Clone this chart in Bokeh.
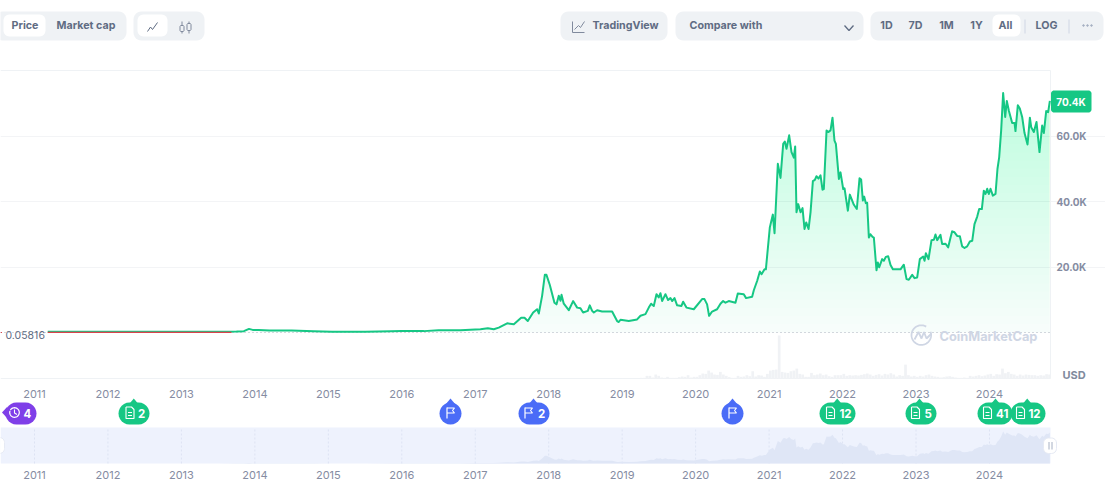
import numpy as np
from bokeh.plotting import figure
from bokeh.models import Range1d, LinearAxis, FixedTicker, Grid
from bokeh.core.properties import value
from bokeh.embed import file_html
from bokeh.resources import INLINE

# ---------- data ----------
tick_years = list(range(2011, 2025))
price_ticks = [20, 40, 60]
price_tick_labels = ["20.0K", "40.0K", "60.0K"]
last_price_label = "70.4K"
first_price = 0.05816
first_price_label = "0.05816"

years = [
 2011.18, 2013.25, 2013.5, 2013.75, 2013.85, 2013.92, 2013.97, 2014.05, 2014.2, 2014.5, 2014.8,
 2015.05, 2015.5, 2015.85, 2016.0, 2016.3, 2016.5, 2016.8, 2017.0,
 2017.071, 2017.171, 2017.252, 2017.320, 2017.434, 2017.525, 2017.625, 2017.670, 2017.715, 2017.788,
 2017.842, 2017.865, 2017.910, 2017.947, 2017.969, 2018.015, 2018.078, 2018.106, 2018.137, 2018.160,
 2018.174, 2018.205, 2018.273, 2018.332, 2018.387, 2018.432, 2018.468, 2018.532, 2018.559, 2018.591,
 2018.614, 2018.659, 2018.727, 2018.863, 2018.931, 2018.954, 2018.977, 2019.090, 2019.203, 2019.249,
 2019.317, 2019.362, 2019.394, 2019.430, 2019.467, 2019.498, 2019.521, 2019.544, 2019.589, 2019.625,
 2019.657, 2019.680, 2019.712, 2019.748, 2019.807, 2019.830, 2019.875, 2019.975, 2020.088, 2020.120,
 2020.156, 2020.183, 2020.224, 2020.292, 2020.338, 2020.374, 2020.406, 2020.451, 2020.542, 2020.574,
 2020.655, 2020.687, 2020.769, 2020.792, 2020.838, 2020.874, 2020.897, 2020.938, 2020.956,
 2021.010, 2021.051, 2021.074, 2021.119, 2021.155, 2021.192, 2021.214, 2021.237, 2021.273, 2021.305,
 2021.337, 2021.355, 2021.373, 2021.396, 2021.428, 2021.455, 2021.482, 2021.505, 2021.537, 2021.564,
 2021.596, 2021.623, 2021.645, 2021.673, 2021.700, 2021.727, 2021.745, 2021.782, 2021.805, 2021.836,
 2021.863, 2021.890, 2021.909, 2021.950, 2021.972, 2022.009, 2022.027, 2022.072, 2022.099, 2022.154,
 2022.194, 2022.231, 2022.253, 2022.276, 2022.294, 2022.317, 2022.335, 2022.358, 2022.380, 2022.408,
 2022.426, 2022.462, 2022.480, 2022.498, 2022.539, 2022.562, 2022.589, 2022.621, 2022.653, 2022.685,
 2022.721, 2022.789, 2022.834, 2022.871, 2022.902, 2022.948, 2022.980,
 2023.016, 2023.052, 2023.098, 2023.116, 2023.134, 2023.170, 2023.211, 2023.243, 2023.265, 2023.288,
 2023.333, 2023.356, 2023.402, 2023.438, 2023.470, 2023.492, 2023.524, 2023.560, 2023.597, 2023.628,
 2023.660, 2023.696, 2023.733, 2023.765, 2023.796, 2023.833, 2023.860, 2023.896, 2023.923, 2023.946,
 2023.969, 2023.991, 2024.014, 2024.046, 2024.082, 2024.109, 2024.132, 2024.159, 2024.186, 2024.214,
 2024.236, 2024.263, 2024.309, 2024.341, 2024.354, 2024.386, 2024.413, 2024.445, 2024.477, 2024.518,
 2024.550, 2024.568, 2024.604, 2024.640, 2024.681, 2024.717, 2024.740, 2024.772, 2024.799, 2024.822,
]
price = [
 0.25, 0.25, 0.25, 0.3, 0.4, 1.1, 0.8, 0.8, 0.6, 0.6, 0.4,
 0.25, 0.25, 0.35, 0.43, 0.42, 0.65, 0.65, 0.95,
 1.0, 1.3, 1.0, 1.5, 2.8, 2.5, 4.5, 4.5, 3.5, 6.1,
 7.1, 5.8, 11.2, 17.6, 17.6, 14.5, 9.1, 8.6, 11.2, 9.7,
 11.5, 8.8, 6.8, 9.6, 7.6, 7.4, 6.1, 6.6, 8.3, 6.6,
 6.1, 6.8, 6.4, 6.4, 3.5, 3.2, 3.9, 3.5, 4.0, 5.1,
 5.6, 7.6, 8.8, 8.1, 11.7, 10.7, 12.0, 9.6, 11.7, 9.9,
 10.5, 9.6, 10.5, 8.3, 8.1, 9.4, 7.6, 7.1, 10.2, 10.2,
 8.6, 5.1, 6.4, 7.1, 8.8, 9.6, 9.1, 9.6, 9.1, 11.9,
 11.7, 10.5, 10.9, 12.9, 15.8, 18.6, 17.8, 19.3, 19.3,
 32.1, 36.0, 30.3, 51.5, 47.2, 57.6, 58.3, 56.1, 60.2, 55.1,
 53.4, 56.8, 36.7, 39.2, 36.7, 38.0, 31.6, 33.6, 31.6, 36.7,
 46.2, 46.6, 47.7, 47.0, 48.0, 43.6, 43.8, 61.7, 61.2, 61.7,
 65.6, 58.6, 57.6, 46.9, 48.9, 43.8, 44.0, 37.2, 42.1, 39.0,
 37.7, 47.1, 46.7, 40.3, 41.5, 39.5, 39.6, 29.0, 30.0, 29.2,
 29.0, 19.0, 21.4, 19.9, 22.4, 21.9, 23.1, 23.3, 20.6, 19.3,
 19.3, 19.3, 20.7, 16.3, 16.1, 17.6, 16.6,
 16.8, 22.4, 23.2, 21.9, 24.2, 22.4, 28.2, 28.3, 29.9, 28.2,
 29.8, 27.0, 27.1, 26.0, 29.0, 30.9, 30.6, 29.5, 29.4, 26.3,
 25.8, 26.3, 27.8, 28.0, 33.1, 35.4, 37.7, 37.7, 43.3, 42.3,
 43.9, 42.3, 43.9, 41.8, 42.3, 50.0, 53.5, 61.7, 73.1, 65.8,
 70.7, 67.8, 64.0, 64.0, 61.5, 69.4, 68.4, 65.8, 60.9, 57.4,
 65.6, 62.7, 61.2, 64.3, 55.1, 63.2, 60.9, 67.6, 67.3, 70.7,
]
volume = [
 1,1,1,1,1,1,1,2,2,8,8,3,12,8,3,2,5,2,2,2,4,6,5,10,3,5,5,10,15,14,24,18,12,11,20,12,8,4,2,2,
 8,5,6,10,7,22,6,10,9,5,14,24,26,27,130,20,18,17,22,24,30,14,12,5,5,17,10,12,15,10,12,7,5,10,10,
 10,14,8,10,9,10,9,11,13,15,12,8,11,13,9,14,12,16,12,6,10,8,42,10,6,8,5,8,6,10,12,8,6,5,3,4,6,7,5,3,2,2,3,2,
 8,6,8,10,7,9,12,14,8,13,12,30,16,20,14,12,8,12,9,12,11,10,10,8,10,9,13,12,
]
volume_start = 2018.977
volume_step = 0.04

GREEN = "#16c784"
RED = "#d9444c"
SLATE = "#5f6c83"
AXIS = "#858ca2"
PILL = "#eff2f5"
FONT = value("Inter")

# pixel geometry of the plot inside the canvas
PX_PER_YEAR = 73.46
X2011 = 34.0
Y0 = 332.0
PX_PER_K = 3.275
WIDTH, HEIGHT = 1105, 485
def yr(px): return 2011 + (px - X2011) / PX_PER_YEAR
def val(py): return (Y0 - py) / PX_PER_K

p = figure(width=WIDTH, height=HEIGHT, min_border=0, toolbar_location=None, output_backend="svg",
           x_axis_location=None, y_axis_location=None, outline_line_color=None,
           x_range=Range1d(yr(0), yr(WIDTH)), y_range=Range1d(val(HEIGHT), val(0)),
           styles={"position": "absolute", "left": "0px", "top": "0px"})
p.grid.visible = False
p.extra_x_ranges = {"px": Range1d(0, WIDTH)}
p.extra_y_ranges = {
    "px": Range1d(HEIGHT, 0),
    "vol": Range1d(-(HEIGHT - 378) / 0.3308, 378 / 0.3308),
    "mini": Range1d(-(HEIGHT - 463) / 0.4384, 463 / 0.4384),
}
PX = dict(x_range_name="px", y_range_name="px")

def rr(x0, y0, x1, y1, r, color, edge=None):
    t = np.linspace(0, np.pi / 2, 7)
    xs = np.concatenate([x1 - r + r*np.sin(t), x1 - r + r*np.cos(t), x0 + r - r*np.sin(t), x0 + r - r*np.cos(t)])
    ys = np.concatenate([y0 + r - r*np.cos(t), y1 - r + r*np.sin(t), y1 - r + r*np.cos(t), y0 + r - r*np.sin(t)])
    p.patch(xs, ys, fill_color=color, line_color=edge, **PX)

def ln(xs, ys, color, w=1.0, **kw):
    p.line(xs, ys, line_color=color, line_width=w, **PX, **kw)

def tx(x, y, s, color=SLATE, size=10.7, bold=True, align="center"):
    p.text([x], [y], text=[s], text_color=color, text_font=FONT, text_font_size=f"{size}px",
           text_font_style="bold" if bold else "normal", text_align=align, text_baseline="middle", **PX)

# ---------- top controls ----------
rr(-6, 11, 126, 40, 8, PILL)
rr(3, 14, 45, 36, 6, "white")
tx(24.5, 24.5, "Price")
tx(85.5, 24.5, "Market cap")
rr(133, 11, 204, 40, 8, PILL)
rr(137, 14, 167, 36, 6, "white")
ln([147, 150, 152, 157], [31, 26.5, 29, 22], SLATE)
ln([181.5, 181.5], [21, 33], "#808a9d"); ln([188.5, 188.5], [21, 33], "#808a9d")
rr(179.5, 25, 183.5, 31, 1, PILL, "#808a9d")
rr(186.5, 23, 190.5, 30, 1, PILL, "#808a9d")

rr(560, 11, 667, 40, 8, PILL)
ln([572, 572, 584], [21, 32, 32], "#808a9d")
ln([574, 578, 580, 584], [29, 25, 27, 21], "#808a9d")
tx(592, 24.5, "TradingView", align="left")
rr(675, 11, 863, 40, 8, PILL)
tx(689, 25, "Compare with", align="left")
ln([844, 848.5, 853], [25, 30, 25], SLATE, 1.3)
rr(870, 11, 1103, 40, 8, PILL)
rr(992, 14, 1020, 36, 6, "white")
for cx, s in zip([886, 915, 946, 976, 1005, 1046], ["1D", "7D", "1M", "1Y", "All", "LOG"]):
    tx(cx, 25, s)
for sx in [1024.5, 1068.5]:
    ln([sx, sx], [19, 33], "#cfd6e4")
p.scatter([1083, 1087, 1091], [25, 25, 25], size=1.6, color="#a6b0c3", **PX)

# ---------- price panel ----------
ln([0, 1050, 1050, 0], [70, 70, 378, 378], "#eff2f5")

pr = np.array(price, float)
yrs = np.array(years, float)
vol_x = volume_start + volume_step * np.arange(len(volume))
keep = vol_x <= yr(1050)
p.vbar(vol_x[keep], width=volume_step * 0.92, top=np.array(volume, float)[keep], bottom=0,
       y_range_name="vol", fill_color="#f0f2f5", line_color=None)

grid = Grid(dimension=1, ticker=FixedTicker(ticks=price_ticks), grid_line_color="#f3f4f6", grid_line_width=1,
            bounds=(yr(0), yr(1050)))
p.add_layout(grid)

# gradient under the line: many translucent layers, each clipped from below at a rising price level
dense_x = np.union1d(yrs, np.linspace(yrs[0], yrs[-1], 1400))
dense_y = np.interp(dense_x, yrs, pr)
for level in np.arange(0, 74, 2.5):
    lo = np.minimum(dense_y, level)
    p.varea(dense_x, lo, dense_y, fill_color=GREEN, fill_alpha=0.035 if level == 0 else 0.009)

ln([0, 1050], [332, 332], "#a9b0bd", 1, line_dash="1 3")

# watermark
wm = "#cfd6e4"
t = np.linspace(np.radians(-20), np.radians(300), 50)
ln(920.8 + 9.8*np.sin(t + np.pi/2), 334.6 - 9.8*np.cos(t + np.pi/2), wm, 1.8)
ln([914, 918, 921, 923.5, 926, 931], [339, 331.5, 338, 331.5, 338, 333], wm, 1.8)
tx(939, 335.8, "CoinMarketCap", wm, 12.8, True, "left")

p.line(yrs, pr, line_color=GREEN, line_width=2, line_join="round")
p.line([yrs[0], yr(231)], [first_price, first_price], line_color=RED, line_width=1.2)
ln([0, 1.5], [332, 332], RED, 1.2)
tx(5, 334, first_price_label, SLATE, 10.5, False, "left")

# axes
xa = LinearAxis(ticker=FixedTicker(ticks=tick_years), fixed_location=val(378),
                major_label_overrides={y: str(y) for y in tick_years})
ya = LinearAxis(ticker=FixedTicker(ticks=price_ticks), fixed_location=yr(1050),
                major_label_overrides=dict(zip(price_ticks, price_tick_labels)))
xm = LinearAxis(ticker=FixedTicker(ticks=tick_years), fixed_location=val(463),
                major_label_overrides={y: str(y) for y in tick_years})
for a, st in ((xa, 5), (ya, 0), (xm, 1)):
    a.axis_line_color = None
    a.major_tick_line_color = None
    a.minor_tick_line_color = None
    a.major_label_standoff = st
    a.major_label_text_color = AXIS
    a.major_label_text_font = "Inter"
    a.major_label_text_font_size = "11px"
ya.major_label_text_font_style = "bold"
ya.major_label_text_font_size = "10px"
p.add_layout(xa, "below"); p.add_layout(ya, "right")

rr(1050.5, 90, 1091, 112, 3, GREEN)
tx(1070.5, 101, last_price_label, "white", 10)
tx(1062, 374, "USD", "#808a9d", 11, True, "left")

# ---------- event badges ----------
def pill(x0, x1, tip, color=GREEN):
    p.patch([tip - 5, tip, tip + 5], [404, 398, 404], fill_color=color, line_color=None, **PX)
    rr(x0, 402, x1, 424, 11, color)

def doc(cx):
    ln([cx-4, cx+1.5, cx+4, cx+4, cx-4, cx-4], [406.5, 406.5, 409, 418, 418, 406.5], "white", 1.1)
    ln([cx-2, cx+2], [412, 412], "white", 1); ln([cx-2, cx+2], [415, 415], "white", 1)

def flag(cx):
    ln([cx-3.5, cx-3.5], [407, 418], "white", 1.2)
    ln([cx-3.5, cx+4, cx+2, cx+4, cx-3.5], [407.5, 407.5, 410, 412.5, 412.5], "white", 1.1)

for x0, x1, tip, icon, num, numx in [(118, 149, 133.3, 129.5, "2", 141),
                                     (819, 855, 836.7, 830, "12", 845),
                                     (905, 936, 919, 915, "5", 927.7),
                                     (977, 1012, 995, 987, "41", 1001.7),
                                     (1010, 1045, 1026.7, 1020, "12", 1034)]:
    pill(x0, x1, tip)
    doc(icon)
    tx(numx, 412.5, num, "white", 11.5)

BLUE = "#4a6cf7"
for cx in [450, 732]:
    pill(cx - 11, cx + 11, cx, BLUE)
    flag(cx)
pill(518, 549, 533, BLUE)
flag(528)
tx(541, 412.5, "2", "white", 11.5)

PURPLE = "#7f3fe8"
p.patch([1.5, 7, 7], [412, 406, 418], fill_color=PURPLE, line_color=None, **PX)
rr(5, 402, 36, 424, 11, PURPLE)
t = np.linspace(np.radians(-60), np.radians(290), 30)
ln(14 + 4.8*np.sin(t), 412 - 4.8*np.cos(t), "white", 1.2)
ln([14, 14, 16.5], [409, 412.5, 414], "white", 1.1)
tx(27, 412.5, "4", "white", 11.5)

# ---------- navigator ----------
p.quad(left=[0], right=[1050], top=[427], bottom=[463], fill_color="#eef2fd", line_color=None, **PX)
p.segment(tick_years, [0]*len(tick_years), tick_years, [82]*len(tick_years),
          line_color="#dde3f3", line_width=1, line_dash="2 2", y_range_name="mini")
p.varea(yrs, np.zeros(len(yrs)), pr, fill_color="#dfe6f6", y_range_name="mini")
p.add_layout(xm, "below")
rr(-8, 437, 4, 453, 5, "white", "#e6eaf4")
rr(1043, 437.5, 1056, 453, 5, "white", "#e6eaf4")
ln([1048.5, 1048.5], [441.5, 449], "#a6b0c3", 1)
ln([1051.5, 1051.5], [441.5, 449], "#a6b0c3", 1)

open("out.html", "w").write(file_html(p, INLINE))
